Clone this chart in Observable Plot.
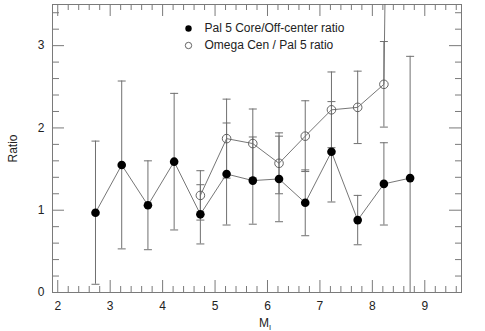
<!DOCTYPE html>
<html>
<head>
<meta charset="utf-8">
<script src="https://cdn.jsdelivr.net/npm/d3@7"></script>
<script src="https://cdn.jsdelivr.net/npm/@observablehq/plot@0.6"></script>
<style>
  html, body { margin: 0; padding: 0; background: #fff; }
  #chart { width: 485px; height: 331px; }
  svg { font-family: "Liberation Sans", Arial, sans-serif; }
</style>
</head>
<body>
<div id="chart"></div>
<script>
// ---- data ----
const palMag   = [2.72, 3.22, 3.72, 4.22, 4.72, 5.22, 5.72, 6.22, 6.72, 7.22, 7.72, 8.22, 8.72];
const palRatio = [0.97, 1.55, 1.06, 1.59, 0.95, 1.44, 1.36, 1.38, 1.09, 1.71, 0.88, 1.32, 1.39];
const palErr   = [0.87, 1.02, 0.54, 0.83, 0.36, 0.62, 0.53, 0.52, 0.40, 0.61, 0.30, 0.50, 1.48];

const omMag    = [4.72, 5.22, 5.72, 6.22, 6.72, 7.22, 7.72, 8.22, 8.72];
const omRatio  = [1.18, 1.87, 1.81, 1.57, 1.90, 2.22, 2.25, 2.53, 27];
const omErr    = [0.30, 0.48, 0.42, 0.37, 0.43, 0.46, 0.44, 0.52, null];

const xMajor = [2, 3, 4, 5, 6, 7, 8, 9];
const yMajor = [0, 1, 2, 3];
const legendLabels = ["Pal 5 Core/Off-center ratio", "Omega Cen / Pal 5 ratio"];
const xLabel = "M", xLabelSub = "I", yLabel = "Ratio";

// ---- layout ----
const W = 485, H = 331;
const mL = 52, mR = 24, mT = 4, mB = 39;
const pw = W - mL - mR, ph = H - mT - mB;
const xDomain = [1.9, 9.7], yDomain = [0, 3.5];

const pal = palMag.map((x, i) => ({x, y: palRatio[i], e: palErr[i]}));
const om = omMag.map((x, i) => ({x, y: omRatio[i], e: omErr[i]}));
const palBars = pal.filter(d => d.e != null);
const omBars = om.filter(d => d.e != null);
const caps = [...palBars, ...omBars].flatMap(d => [{x: d.x, y: d.y + d.e}, {x: d.x, y: d.y - d.e}])
  .filter(d => d.y >= yDomain[0] && d.y <= yDomain[1]);

const xMinor = d3.range(20, 97, 2).map(v => v / 10).filter(v => !xMajor.includes(v));
const yMinor = d3.range(2, 35, 2).map(v => v / 10).filter(v => !yMajor.includes(v));

const capSymbol = {draw(ctx, size) { const r = Math.sqrt(size / Math.PI); ctx.moveTo(-r, 0); ctx.lineTo(r, 0); }};

const axisColor = "#7a7a7a";
const lineColor = "#666";
const barColor = "#707070";

const chart = Plot.plot({
  width: W, height: H,
  marginLeft: mL, marginRight: mR, marginTop: mT, marginBottom: mB,
  style: {fontFamily: "Liberation Sans, Arial, sans-serif", fontSize: "12px", color: "#222", background: "#fff"},
  x: {domain: xDomain},
  y: {domain: yDomain},
  marks: [
    Plot.frame({stroke: axisColor, strokeWidth: 1}),
    // inward ticks: bottom / top
    Plot.tickX(xMajor, {x: d => d, insetTop: ph - 12, stroke: axisColor}),
    Plot.tickX(xMinor, {x: d => d, insetTop: ph - 6, stroke: axisColor}),
    Plot.tickX(xMajor, {x: d => d, insetBottom: ph - 12, stroke: axisColor}),
    Plot.tickX(xMinor, {x: d => d, insetBottom: ph - 6, stroke: axisColor}),
    // inward ticks: left / right
    Plot.tickY(yMajor, {y: d => d, insetRight: pw - 12, stroke: axisColor}),
    Plot.tickY(yMinor, {y: d => d, insetRight: pw - 7, stroke: axisColor}),
    Plot.tickY(yMajor, {y: d => d, insetLeft: pw - 12, stroke: axisColor}),
    Plot.tickY(yMinor, {y: d => d, insetLeft: pw - 6, stroke: axisColor}),
    Plot.axisX(xMajor, {tickSize: 0, tickPadding: 9, label: null, tickFormat: d => String(d), fill: "#222"}),
    Plot.axisY(yMajor, {tickSize: 0, tickPadding: 8, tickFormat: d => String(d), label: yLabel, labelAnchor: "center", labelOffset: 44, fill: "#222", labelArrow: "none"}),
    // error bars
    Plot.ruleX(palBars, {x: "x", y1: d => d.y - d.e, y2: d => d.y + d.e, stroke: barColor, strokeWidth: 1, clip: true}),
    Plot.ruleX(omBars, {x: "x", y1: d => d.y - d.e, y2: d => d.y + d.e, stroke: barColor, strokeWidth: 1, clip: true}),
    Plot.dot(caps, {x: "x", y: "y", r: 4, symbol: capSymbol, stroke: barColor, strokeWidth: 1, fill: "none"}),
    // connecting lines
    Plot.line(pal, {x: "x", y: "y", stroke: lineColor, strokeWidth: 0.9, clip: true}),
    Plot.line(om, {x: "x", y: "y", stroke: lineColor, strokeWidth: 0.9, clip: true}),
    // markers
    Plot.dot(pal, {x: "x", y: "y", r: 4.3, fill: "#000", stroke: "none", clip: true}),
    Plot.dot(om, {x: "x", y: "y", r: 4.3, fill: "none", stroke: "#555", strokeWidth: 0.9, clip: true}),
    // legend
    Plot.dot([0], {frameAnchor: "top-left", dx: 136, dy: 24, r: 3.2, fill: "#000", stroke: "none"}),
    Plot.dot([0], {frameAnchor: "top-left", dx: 136, dy: 41, r: 3.2, fill: "none", stroke: "#555", strokeWidth: 0.9}),
    Plot.text([legendLabels[0]], {text: d => d, frameAnchor: "top-left", dx: 152, dy: 24, textAnchor: "start", lineAnchor: "middle", fontSize: 12, fill: "#222"}),
    Plot.text([legendLabels[1]], {text: d => d, frameAnchor: "top-left", dx: 152, dy: 41, textAnchor: "start", lineAnchor: "middle", fontSize: 12, fill: "#222"})
  ]
});

document.getElementById("chart").appendChild(chart);

// x-axis label with subscript
const svg = d3.select(chart);
const t = svg.append("text")
  .attr("x", 265).attr("y", 327)
  .attr("fill", "#222")
  .attr("font-size", 12)
  .attr("font-family", "Liberation Sans, Arial, sans-serif");
t.append("tspan").text(xLabel);
t.append("tspan").attr("font-size", 7.5).attr("dy", 2.5).text(xLabelSub);
</script>
</body>
</html>
